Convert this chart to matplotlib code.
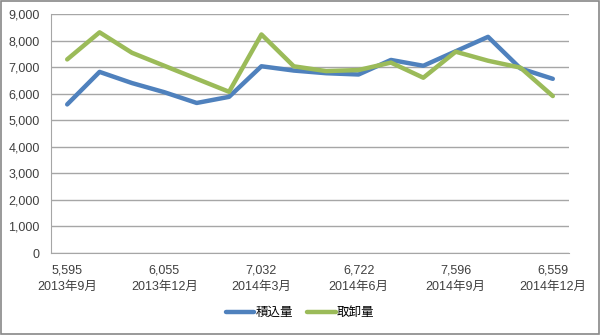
import matplotlib.pyplot as plt
from matplotlib.patches import Rectangle

plt.rcParams['font.family'] = ['Liberation Sans', 'Noto Sans CJK JP']

months = ['2013年9月', '2013年10月', '2013年11月', '2013年12月', '2014年1月', '2014年2月',
          '2014年3月', '2014年4月', '2014年5月', '2014年6月', '2014年7月', '2014年8月',
          '2014年9月', '2014年10月', '2014年11月', '2014年12月']
loading = [5595, 6820, 6400, 6055, 5650, 5880, 7032, 6870, 6770, 6722, 7270, 7050,
           7596, 8140, 6950, 6559]
unloading = [7290, 8310, 7540, 7050, 6560, 6070, 8230, 7030, 6850, 6890, 7170, 6600,
             7580, 7240, 6980, 5910]

fig = plt.figure(figsize=(6, 3.35), dpi=100)
ax = fig.add_axes([51 / 600, (335 - 253) / 335, (569 - 51) / 600, (253 - 14) / 335])

x = list(range(len(months)))
ax.plot(x, loading, color='#4f81bd', linewidth=3.2, label='積込量', solid_capstyle='round')
ax.plot(x, unloading, color='#9bbb59', linewidth=3.2, label='取卸量', solid_capstyle='round')

ax.set_xlim(-0.5, len(months) - 0.5)
ax.set_ylim(0, 9000)
ax.set_yticks(range(0, 9001, 1000))
ax.set_yticklabels([f'{v:,}' for v in range(0, 9001, 1000)], fontsize=9)
ticks = x[::3]
ax.set_xticks(ticks)
ax.set_xticklabels([f'{loading[i]:,}\n{months[i]}' for i in ticks], fontsize=9,
                   linespacing=1.5)
ax.tick_params(length=0, pad=8, colors='#404040')
ax.grid(axis='y', color='#a6a6a6', linewidth=1)
ax.set_axisbelow(True)
for side in ['top', 'right']:
    ax.spines[side].set_visible(False)
for side in ['left', 'bottom']:
    ax.spines[side].set_color('#a6a6a6')

fig.legend(loc='center', bbox_to_anchor=(0.5, (335 - 313) / 335), ncol=2,
           frameon=False, fontsize=9, handlelength=2.3, columnspacing=1.1, handletextpad=0.1)

fig.patches.append(Rectangle((0.001, 0.002), 0.997, 0.995, transform=fig.transFigure,
                             fill=False, edgecolor='#888888', linewidth=1.2))

fig.savefig('out.png', dpi=100)
